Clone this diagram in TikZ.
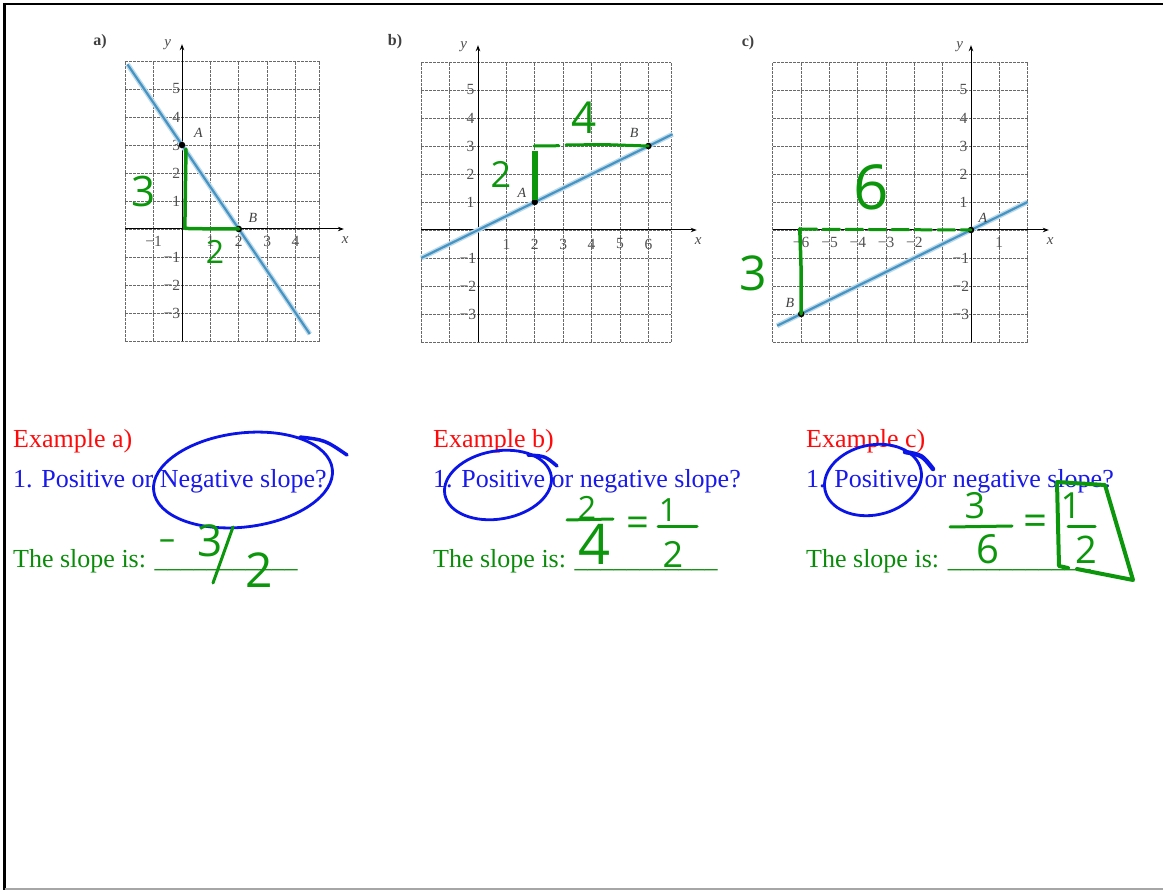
\documentclass[tikz,border=0pt]{standalone}
\usepackage{fontspec}
\setmainfont{Liberation Serif}
\newfontfamily\handfont{Open Sans}
\usetikzlibrary{arrows.meta}
\definecolor{txtred}{RGB}{255,10,10}
\definecolor{txtblue}{RGB}{25,25,235}
\definecolor{txtgreen}{RGB}{10,140,10}
\definecolor{inkgreen}{RGB}{12,150,12}
\definecolor{inkblue}{RGB}{10,20,230}
\definecolor{lineblue}{RGB}{70,148,195}
\definecolor{gridgray}{RGB}{105,105,105}
\tikzset{
  gridline/.style={gridgray, line width=0.9pt, dash pattern=on 3pt off 1pt},
  axisline/.style={black, line width=1pt, -{Stealth[length=6pt,width=4.5pt]}},
  tick/.style={font=\fontsize{15.5}{16}\selectfont, text=black!68, inner sep=0.5pt},
  axlabel/.style={font=\fontsize{15}{15}\selectfont\itshape, text=black!70, inner sep=0},
  plabel/.style={font=\fontsize{14}{14}\selectfont\itshape, text=black!75, inner sep=0},
  glabel/.style={font=\fontsize{16}{16}\selectfont\bfseries, text=black!75, inner sep=0},
  halo/.style={lineblue!35, line width=5pt},
  slopeline/.style={lineblue, line width=2.2pt},
  dot/.style={circle, fill=black, inner sep=0pt, minimum size=6.5pt},
  hand/.style={text=inkgreen, inner sep=0pt},
  inkline/.style={inkgreen, line width=3.5pt, line cap=round, line join=round},
  circ/.style={inkblue, line width=2.8pt, line cap=round},
  big/.style={font=\fontsize{26}{30}\selectfont, inner sep=0pt, anchor=base west},
}
\newcommand{\hfs}[1]{\handfont\fontsize{#1}{#1}\selectfont}
\begin{document}
\begin{tikzpicture}[x=1pt,y=-1pt]
\useasboundingbox (0,0) rectangle (1163,890);
\fill[white] (0,0) rectangle (1163,890);
% frame
\draw[black, line width=2.2pt] (4.5,4) -- (1163,4);
\draw[black, line width=2.6pt] (4.5,3) -- (4.5,890);
\draw[gray!70, line width=1.5pt] (4.5,889) -- (1163,889);

% ================= Graph a =================
\node[glabel] (la) at (100,42) {a)};
\begin{scope}[shift={(182,229)}, x=28.4pt, y=28pt]
  \foreach \i in {-2,...,4} \draw[gridline] (\i,-4) -- (\i,6);
  \draw[gridline] (4.85,-4) -- (4.85,6);
  \foreach \j in {-4,...,6} \draw[gridline] (-2,\j) -- (4.85,\j);
  \draw[axisline] (-2,0) -- (5.7,0);
  \draw[axisline] (0,-4) -- (0,6.6);
  \node[axlabel] (ax) at (5.75,-0.4) {x};
  \node[axlabel] (ay) at (-0.5,6.6) {y};
  \foreach \j in {5,4,3,2,1} \node[tick, anchor=east] (ay\j) at (-0.04,\j) {\j};
  \foreach \j in {1,2,3} \node[tick, anchor=east] (ayn\j) at (-0.04,-\j) {−\j};
  \node[tick] (axn1) at (-1,-0.45) {−1};
  \foreach \i in {1,2,3,4} \node[tick] (ax\i) at (\i,-0.45) {\i};
  \draw[halo] (-1.92,5.88) -- (4.5,-3.75);
  \draw[slopeline] (-1.92,5.88) -- (4.5,-3.75);
  \node[dot] (aA) at (0,3) {};
  \node[dot] (aB) at (2,0) {};
  \node[plabel] (aAl) at (0.58,3.45) {A};
  \node[plabel] (aBl) at (2.5,0.4) {B};
  \draw[inkline] (0.14,2.85) -- (0.12,1.5) -- (0.1,0.02) -- (1.2,0.0) -- (aB.center);
\end{scope}
\node[hand, font=\hfs{42}] (a3) at (144,192) {3};
\node[hand, font=\hfs{32}] (a2) at (215,252) {2};

% ================= Graph b =================
\node[glabel] (lb) at (395,42) {b)};
\begin{scope}[shift={(478,230)}, x=28.4pt, y=28pt]
  \foreach \i in {-2,...,6} \draw[gridline] (\i,-4) -- (\i,6);
  \draw[gridline] (6.8,-4) -- (6.8,6);
  \foreach \j in {-4,...,6} \draw[gridline] (-2,\j) -- (6.8,\j);
  \draw[axisline] (-2,0) -- (7.7,0);
  \draw[axisline] (0,-4) -- (0,6.6);
  \node[axlabel] (bx) at (7.75,-0.4) {x};
  \node[axlabel] (by) at (-0.5,6.55) {y};
  \foreach \j in {5,4,3,2,1} \node[tick, anchor=east] (by\j) at (-0.1,\j) {\j};
  \foreach \j in {1,2,3} \node[tick, anchor=east] (byn\j) at (-0.04,-\j) {−\j};
  \foreach \i in {1,...,6} \node[tick] (bx\i) at (\i,-0.5) {\i};
  \draw[halo] (-2,-1) -- (6.85,3.42);
  \draw[slopeline] (-2,-1) -- (6.85,3.42);
  \node[dot] (bA) at (2,1) {};
  \node[dot] (bB) at (6,3) {};
  \node[plabel] (bAl) at (1.55,1.32) {A};
  \node[plabel] (bBl) at (5.5,3.45) {B};
  \draw[inkgreen, line width=6pt] (2.02,2.82) -- (2.02,1.08);
  \draw[inkline, line width=3pt] (1.98,3.0) -- (2.85,3.01);
  \draw[inkline, line width=3pt] (3.1,3.04) -- (4.5,3.05) -- (bB.center);
\end{scope}
\node[hand, font=\hfs{44}] (b4) at (584,118) {4};
\node[hand, font=\hfs{36}] (b2) at (501,174) {2};

% ================= Graph c =================
\node[glabel] (lc) at (748,43) {c)};
\begin{scope}[shift={(971,230)}, x=28.3pt, y=28pt]
  \foreach \i in {-7,...,2} \draw[gridline] (\i,-4) -- (\i,6);
  \foreach \j in {-4,...,6} \draw[gridline] (-7,\j) -- (2,\j);
  \draw[axisline] (-7,0) -- (2.75,0);
  \draw[axisline] (0,-4) -- (0,6.6);
  \node[axlabel] (cx) at (2.8,-0.4) {x};
  \node[axlabel] (cy) at (-0.4,6.55) {y};
  \foreach \j in {5,4,3,2,1} \node[tick, anchor=east] (cy\j) at (-0.1,\j) {\j};
  \foreach \j in {1,2,3} \node[tick, anchor=east] (cyn\j) at (-0.04,-\j) {−\j};
  \foreach \i in {2,...,6} \node[tick] (cxn\i) at (-\i,-0.45) {−\i};
  \node[tick] (cx1) at (1,-0.45) {1};
  \draw[halo] (-6.85,-3.42) -- (2,1);
  \draw[slopeline] (-6.85,-3.42) -- (2,1);
  \node[dot] (cA) at (0,0) {};
  \node[dot] (cB) at (-6,-3) {};
  \node[plabel] (cAl) at (0.42,0.45) {A};
  \node[plabel] (cBl) at (-6.4,-2.6) {B};
  \draw[inkline, line width=3pt, dash pattern=on 17pt off 6pt] (-6.05,0.03) -- (cA.center);
  \draw[inkline, line width=3.5pt] (-6.05,0.05) -- (-6.0,-1.5) -- (cB.center);
\end{scope}
\node[hand, font=\hfs{62}] (c6) at (871,187) {6};
\node[hand, font=\hfs{48}] (c3) at (753,273) {3};

% ================= Text =================
\node[big, text=txtred] (ea) at (13,448) {Example a)};
\node[big, text=txtblue] (qa) at (13,488) {1. Positive or Negative slope?};
\node[big, text=txtgreen] (sa) at (13,568) {The slope is: \_\_\_\_\_\_\_\_\_\_\_};

\node[big, text=txtred] (eb) at (433,448) {Example b)};
\node[big, text=txtblue] (qb) at (433,488) {1. Positive or negative slope?};
\node[big, text=txtgreen] (sb) at (433,568) {The slope is: \_\_\_\_\_\_\_\_\_\_\_};

\node[big, text=txtred] (ec) at (806,448) {Example c)};
\node[big, text=txtblue] (qc) at (806,488) {1. Positive or negative slope?};
\node[big, text=txtgreen] (sc) at (806,568) {The slope is: \_\_\_\_\_\_\_\_\_\_\_};

% ================= Blue circles =================
\draw[circ, rotate around={7:(243,480)}] (243,480) ellipse [x radius=90, y radius=47];
\draw[circ, line width=3.5pt] (300,437) .. controls (325,440) .. (347,455);
\draw[circ, rotate around={10:(498,485)}] (498,485) ellipse [x radius=54, y radius=34];
\draw[circ, line width=3.5pt] (528,455) .. controls (545,456) .. (557,466);
\draw[circ, rotate around={12:(873,480)}] (873,480) ellipse [x radius=49, y radius=35];
\draw[circ, line width=4.5pt] (905,452) .. controls (922,455) .. (933,469);

% ================= Green answers =================
% a) -3/2
\node[hand, font=\hfs{32}] (am) at (167,545) {–};
\node[hand, font=\hfs{44}] (an) at (210,541) {3};
\node[hand, font=\hfs{48}] (ad) at (259,570) {2};
\coordinate (s1) at (233,527);
\coordinate (s2) at (213,583);
\draw[inkline, line width=3pt] (s1) -- (s2);

% b) 2/4 = 1/2
\node[hand, font=\hfs{32}] (bn1) at (587,508) {2};
\node[hand, font=\hfs{56}] (bd1) at (595,544) {4};
\node[hand, font=\hfs{40}] (beq) at (638,527) {=};
\node[hand, font=\hfs{32}] (bn2) at (668,510) {1};
\node[hand, font=\hfs{36}] (bd2) at (673,554) {2};
\coordinate (bb1) at (567,520);
\coordinate (bb2) at (613,519);
\coordinate (bb3) at (658,527);
\coordinate (bb4) at (697,527);
\draw[inkline, line width=3pt] (bb1) -- (bb2);
\draw[inkline, line width=3pt] (bb3) -- (bb4);

% c) 3/6 = 1/2 boxed
\node[hand, font=\hfs{36}] (cn1) at (975,506) {3};
\node[hand, font=\hfs{40}] (cd1) at (988,549) {6};
\node[hand, font=\hfs{42}] (ceq) at (1035,525) {=};
\node[hand, font=\hfs{36}] (cn2) at (1071,506) {1};
\node[hand, font=\hfs{38}] (cd2) at (1086,550) {2};
\coordinate (cb1) at (950,527);
\coordinate (cb2) at (1012,526);
\coordinate (cb3) at (1068,527);
\coordinate (cb4) at (1095,527);
\draw[inkline, line width=3pt] (cb1) -- (cb2);
\draw[inkline, line width=3pt] (cb3) -- (cb4);
\coordinate (k1) at (1077,569);
\coordinate (k2) at (1133,580);
\coordinate (k3) at (1105,485);
\coordinate (k4) at (1057,482);
\coordinate (k5) at (1059,566);
\coordinate (k6) at (1068,568);
\draw[inkline, line width=4pt] (k1) -- (k2) -- (k3) -- (k4) -- (k5) -- (k6);
\end{tikzpicture}
\end{document}
